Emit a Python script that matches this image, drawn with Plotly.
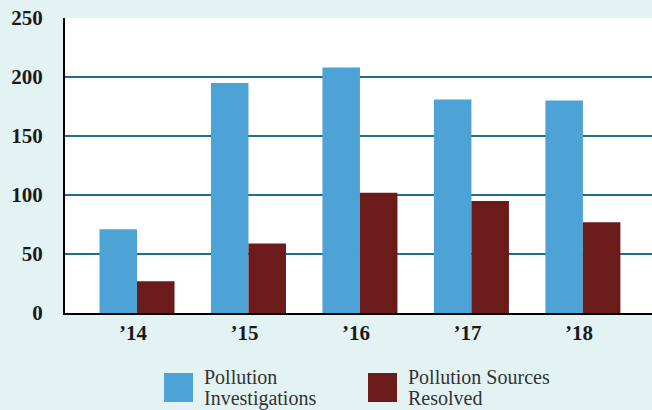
import plotly.graph_objects as go

years = ["\u201914", "\u201915", "\u201916", "\u201917", "\u201918"]
investigations = [71, 195, 208, 181, 180]
resolved = [27, 59, 102, 95, 77]
y_ticks = [0, 50, 100, 150, 200, 250]
series_names = ["Pollution<br>Investigations", "Pollution Sources<br>Resolved"]

BLUE = "#4EA3D6"
RED = "#6B1C1A"
GRID = "#1F6F8B"
BG = "#E3F2F2"
FONT = "Liberation Serif"

fig = go.Figure()
fig.add_trace(go.Bar(x=years, y=investigations, name="Pollution Investigations",
                     marker=dict(color=BLUE, line=dict(width=0))))
fig.add_trace(go.Bar(x=years, y=resolved, name="Pollution Sources Resolved",
                     marker=dict(color=RED, line=dict(width=0))))

fig.update_layout(
    width=652, height=410,
    margin=dict(l=65, r=0, t=18, b=97),
    paper_bgcolor=BG, plot_bgcolor="white",
    barmode="group", bargap=0.327, bargroupgap=0,
    showlegend=False,
    font=dict(family=FONT, color="#1a1a1a"),
)
fig.update_xaxes(
    type="category", range=[-0.646, 4.62],
    showgrid=False, zeroline=False,
    showline=True, linecolor="black", linewidth=2,
    ticks="", ticklabelstandoff=0, ticklabelshift=-4,
    tickfont=dict(family=FONT, size=21, color="#1a1a1a", weight="bold"),
)
fig.update_yaxes(
    range=[0, 250], tickvals=y_ticks,
    showgrid=True, gridcolor=GRID, gridwidth=2,
    zeroline=False,
    showline=True, linecolor="black", linewidth=2,
    ticks="", ticklabelstandoff=16,
    tickfont=dict(family=FONT, size=21, color="#1a1a1a", weight="bold"),
)

# custom legend
pw, ph = 587.0, 295.0
def px_x(p):
    return (p - 65) / pw
def px_y(p):
    return (313 - p) / ph

legend_items = [(164, BLUE, series_names[0]), (368, RED, series_names[1])]
for x0, col, label in legend_items:
    fig.add_shape(type="rect", xref="paper", yref="paper",
                  x0=px_x(x0), x1=px_x(x0 + 29), y0=px_y(402), y1=px_y(373),
                  fillcolor=col, line=dict(width=0))
    lines = label.split("<br>")
    for i, ln in enumerate(lines):
        fig.add_annotation(xref="paper", yref="paper", x=px_x(x0 + 38),
                           y=px_y(377 + 21 * i), xanchor="left", yanchor="middle",
                           text=ln, showarrow=False,
                           font=dict(family=FONT, size=20, color="#333333"))

fig.write_html("out.html", config={"displayModeBar": False},
               post_script="document.body.style.margin='0';document.body.style.background='" + BG + "';")
